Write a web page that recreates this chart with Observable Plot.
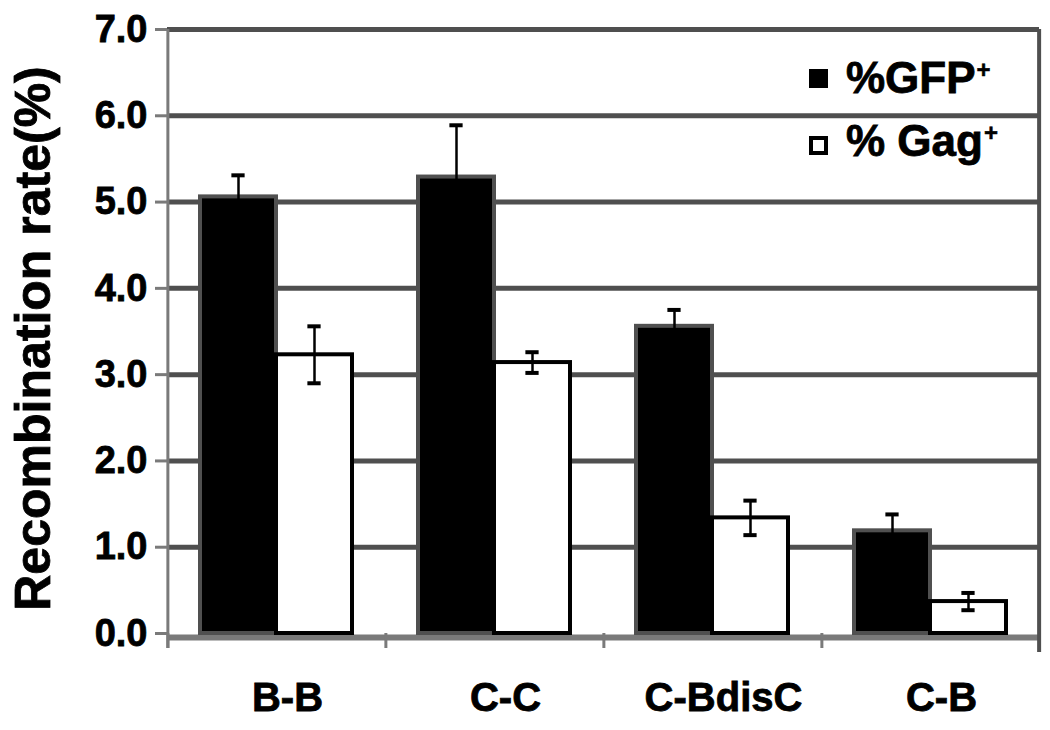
<!DOCTYPE html>
<html>
<head>
<meta charset="utf-8">
<script src="https://cdn.jsdelivr.net/npm/d3@7"></script>
<script src="https://cdn.jsdelivr.net/npm/@observablehq/plot@0.6"></script>
<style>
  body { margin: 0; background: #fff; }
  #wrap { position: relative; width: 1050px; height: 730px; font-family: "Liberation Sans", Arial, sans-serif; }
  #wrap svg text { font-weight: bold; stroke: #000; stroke-width: 0.8px; }
  .leg-item { position: absolute; left: 809px; height: 46px; font-size: 44px; line-height: 1; font-weight: bold; color: #000; white-space: nowrap; -webkit-text-stroke: 0.8px #000; }
  .leg-sw { position: absolute; width: 19px; height: 19px; box-sizing: border-box; }
  .leg-txt { position: absolute; left: 37px; top: 0; }
  .leg-txt sup { font-size: 24px; vertical-align: 0; position: relative; top: -15px; margin-left: 1px; -webkit-text-stroke: 0.5px #000; }
</style>
</head>
<body>
<div id="wrap"></div>
<script>
// ---- data ----
const categories = ["B-B", "C-C", "C-BdisC", "C-B"];
const series = ["%GFP", "% Gag"];
const gfpValues = [5.06, 5.29, 3.56, 1.19];
const gfpErrors = [0.25, 0.60, 0.19, 0.19];
const gagValues = [3.23, 3.14, 1.34, 0.37];
const gagErrors = [0.33, 0.12, 0.20, 0.10];
const yTicks = [0, 1, 2, 3, 4, 5, 6, 7];
const yTitle = "Recombination rate(%)";

const data = categories.flatMap((c, i) => [
  {category: c, series: series[0], value: gfpValues[i], err: gfpErrors[i]},
  {category: c, series: series[1], value: gagValues[i], err: gagErrors[i]}
]);
const gfpData = data.filter(d => d.series === series[0]);
const gagData = data.filter(d => d.series === series[1]);

// ---- layout ----
const W = 1050, H = 730, ML = 167, MR = 11, MT = 29, MB = 97;
const outer = 0.42;
const facetW = (W - ML - MR) / categories.length;
const step = facetW / (series.length + 2 * outer);
const edge = step / 2 + outer * step;
const capInset = (step - 14) / 2;
const axisGray = "#7a7a7a", gridGray = "#4f4f4f";

const chart = Plot.plot({
  width: W, height: H,
  marginLeft: ML, marginRight: MR, marginTop: MT, marginBottom: MB,
  style: {fontFamily: "'Liberation Sans', Arial, sans-serif", fontWeight: "bold", color: "#000", background: "#fff"},
  fx: {domain: categories, padding: 0, axis: null},
  x: {domain: series, paddingInner: 0, paddingOuter: outer, axis: null},
  y: {domain: [0, 7], axis: null},
  marks: [
    // horizontal grid lines
    Plot.ruleY(yTicks.filter(t => t > 0), {stroke: gridGray, strokeWidth: 5}),
    // category axis line
    Plot.ruleY([0], {stroke: axisGray, strokeWidth: 6, dy: 4}),
    // boundary ticks on the category axis (left edge of every group)
    Plot.ruleX(categories, {fx: d => d, x: () => series[0], dx: -edge, y1: 0, y2: 0, insetBottom: -15, stroke: axisGray, strokeWidth: 3}),
    // left value-axis line
    Plot.ruleX([categories[0]], {fx: d => d, x: () => series[0], dx: -edge, insetBottom: -15, stroke: axisGray, strokeWidth: 3}),
    // right border line
    Plot.ruleX([categories[categories.length - 1]], {fx: d => d, x: () => series[1], dx: edge, insetBottom: -19, stroke: gridGray, strokeWidth: 4}),
    // bars
    Plot.barY(gfpData, {fx: "category", x: "series", y: "value", fill: "#000", stroke: "#505050", strokeWidth: 4}),
    Plot.barY(gagData, {fx: "category", x: "series", y: "value", fill: "#fff", stroke: "#000", strokeWidth: 4}),
    // error bars
    Plot.ruleX(data, {fx: "category", x: "series", y1: d => d.value + d.err, y2: d => d.value - d.err, stroke: "#000", strokeWidth: 2.5}),
    Plot.tickY(data, {fx: "category", x: "series", y: d => d.value + d.err, insetLeft: capInset, insetRight: capInset, stroke: "#000", strokeWidth: 4}),
    Plot.tickY(data, {fx: "category", x: "series", y: d => d.value - d.err, insetLeft: capInset, insetRight: capInset, stroke: "#000", strokeWidth: 4}),
    // value axis
    Plot.axisY({ticks: yTicks, tickFormat: d3.format(".1f"), tickSize: 12, tickPadding: 8, fontSize: 38, stroke: axisGray, strokeWidth: 3, fill: "#000", label: null}),
    // category axis labels
    Plot.axisFx({anchor: "bottom", tickSize: 0, tickPadding: 49, fontSize: 40, dx: 11, fill: "#000", label: null}),
    // value axis title
    Plot.text([yTitle], {fx: () => categories[0], text: d => d, frameAnchor: "left", rotate: -90, dx: -134, dy: 7, fontSize: 50, textAnchor: "middle", lineAnchor: "middle", fill: "#000"})
  ]
});

const wrap = document.getElementById("wrap");
wrap.appendChild(chart);

// legend (overlaid in the plot area's top-right corner)
const legendItems = [
  {label: series[0], fill: "#000", border: "none", top: 56, swTop: 13},
  {label: series[1], fill: "#fff", border: "4px solid #000", top: 119, swTop: 17}
];
legendItems.forEach(it => {
  const div = document.createElement("div");
  div.className = "leg-item";
  div.style.top = it.top + "px";
  const sw = document.createElement("div");
  sw.className = "leg-sw";
  sw.style.top = it.swTop + "px";
  sw.style.left = "0px";
  sw.style.background = it.fill;
  sw.style.border = it.border;
  const tx = document.createElement("div");
  tx.className = "leg-txt";
  tx.textContent = it.label;
  const sup = document.createElement("sup");
  sup.textContent = "+";
  tx.appendChild(sup);
  div.appendChild(sw);
  div.appendChild(tx);
  wrap.appendChild(div);
});
</script>
</body>
</html>
